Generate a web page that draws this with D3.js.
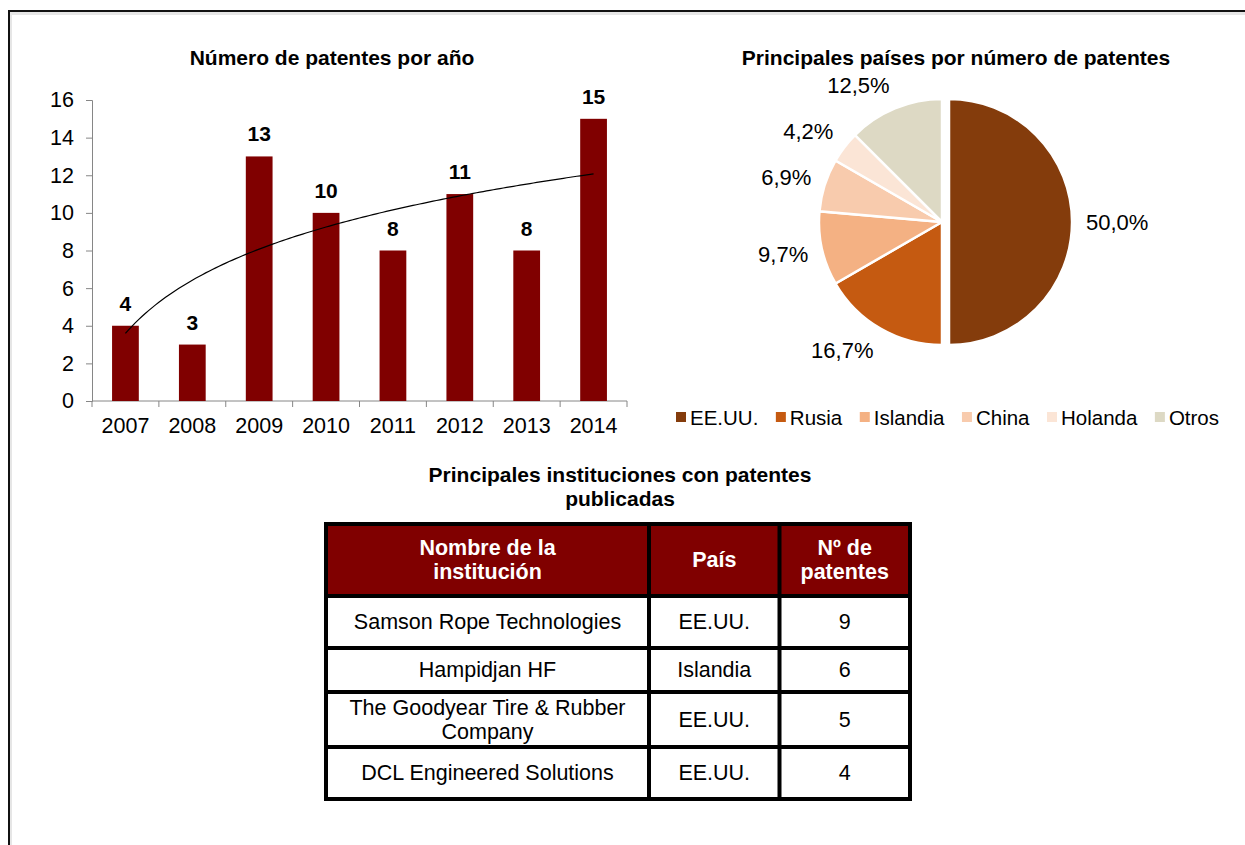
<!DOCTYPE html>
<html>
<head>
<meta charset="utf-8">
<script src="https://cdn.jsdelivr.net/npm/d3@7"></script>
<style>
  body { margin: 0; background: #fff; }
  svg { display: block; font-family: "Liberation Sans", Arial, sans-serif; }
</style>
</head>
<body>
<div id="chart"></div>
<script>
// dades
const years = ["2007", "2008", "2009", "2010", "2011", "2012", "2013", "2014"];
const patents = [4, 3, 13, 10, 8, 11, 8, 15];
const yTicks = [0, 2, 4, 6, 8, 10, 12, 14, 16];

const countries = ["EE.UU.", "Rusia", "Islandia", "China", "Holanda", "Otros"];
const countryCounts = [36, 12, 7, 5, 3, 9];
const countryColors = ["#843c0c", "#c55a11", "#f4b183", "#f8cbad", "#fbe5d6", "#ddd9c4"];

const tableHeader = [["Nombre de la", "institución"], ["País"], ["Nº de", "patentes"]];
const institutions = [["Samson Rope Technologies"], ["Hampidjan HF"], ["The Goodyear Tire & Rubber", "Company"], ["DCL Engineered Solutions"]];
const instCountries = ["EE.UU.", "Islandia", "EE.UU.", "EE.UU."];
const instPatents = [9, 6, 5, 4];

const W = 1245, H = 845;
const svg = d3.select("#chart").append("svg").attr("width", W).attr("height", H);

// marc
svg.append("path").attr("d", `M10,${H} V13 H${W}`).attr("fill", "none")
  .attr("stroke", "#e6e6e6").attr("stroke-width", 4);
svg.append("path").attr("d", `M9,${H} V11 H${W}`).attr("fill", "none")
  .attr("stroke", "#111").attr("stroke-width", 2);

// ---------- gràfic de barres ----------
const x = d3.scaleBand().domain(years).range([92, 627]).paddingInner(0.6).paddingOuter(0.3);
const y = d3.scaleLinear().domain([0, 16]).range([401, 100]);

svg.append("text").attr("x", 332).attr("y", 65).attr("text-anchor", "middle")
  .style("font-size", "21px").style("font-weight", "bold").text("Número de patentes por año");

const yAxis = svg.append("g").attr("transform", "translate(92,0)")
  .call(d3.axisLeft(y).tickValues(yTicks).tickSize(6).tickPadding(12));
yAxis.selectAll("text").style("font-size", "21.5px").attr("fill", "#000").style("font-family", "Liberation Sans, Arial");
yAxis.selectAll("line, path").attr("stroke", "#868686");

// eix x amb ticks als límits de cada categoria
const xAxis = svg.append("g");
xAxis.append("line").attr("x1", 92).attr("x2", 627).attr("y1", y(0)).attr("y2", y(0)).attr("stroke", "#868686");
xAxis.selectAll(".tk").data(d3.range(years.length + 1)).enter().append("line")
  .attr("x1", i => x.range()[0] + i * x.step()).attr("x2", i => x.range()[0] + i * x.step())
  .attr("y1", y(0)).attr("y2", y(0) + 6).attr("stroke", "#868686");
xAxis.selectAll(".lb").data(years).enter().append("text")
  .attr("x", d => x(d) + x.bandwidth() / 2).attr("y", y(0) + 32).attr("text-anchor", "middle")
  .style("font-size", "21.5px").text(d => d);

svg.selectAll(".bar").data(patents).enter().append("rect")
  .attr("x", (d, i) => x(years[i])).attr("width", x.bandwidth())
  .attr("y", d => y(d)).attr("height", d => y(0) - y(d)).attr("fill", "#800000");

svg.selectAll(".val").data(patents).enter().append("text")
  .attr("x", (d, i) => x(years[i]) + x.bandwidth() / 2).attr("y", d => y(d) - 15)
  .attr("text-anchor", "middle").style("font-size", "21px").style("font-weight", "bold").text(d => d);

// línia de tendència logarítmica (regressió sobre les dades)
const lx = patents.map((d, i) => Math.log(i + 1));
const mx = d3.mean(lx), my = d3.mean(patents);
const b = d3.sum(lx, (v, i) => (v - mx) * (patents[i] - my)) / d3.sum(lx, v => (v - mx) ** 2);
const a = my - b * mx;
const trend = d3.range(1, years.length + 0.001, 0.05).map(t => [t, a + b * Math.log(t)]);
const tx = d3.scaleLinear().domain([1, years.length])
  .range([x(years[0]) + x.bandwidth() / 2, x(years[years.length - 1]) + x.bandwidth() / 2]);
svg.append("path").datum(trend)
  .attr("d", d3.line().x(d => tx(d[0])).y(d => y(d[1])))
  .attr("fill", "none").attr("stroke", "#000").attr("stroke-width", 1.2);

// ---------- gràfic de pastís ----------
svg.append("text").attr("x", 956).attr("y", 65).attr("text-anchor", "middle")
  .style("font-size", "21px").style("font-weight", "bold").text("Principales países por número de patentes");

const cx = 942, cy = 222, r = 123;
const total = d3.sum(countryCounts);
const arcs = d3.pie().sort(null).value(d => d)(countryCounts);
const arc = d3.arc().innerRadius(0).outerRadius(r);
const pieG = svg.append("g").attr("transform", `translate(${cx},${cy})`);

arcs.forEach((d, i) => {
  const mid = (d.startAngle + d.endAngle) / 2;
  const dx = Math.sin(mid), dy = -Math.cos(mid);
  const ex = i === 0 ? 7 : 0;
  const ox = dx * ex, oy = dy * ex;
  pieG.append("path").attr("d", arc(d)).attr("transform", `translate(${ox},${oy})`)
    .attr("fill", countryColors[i]).attr("stroke", "#fff").attr("stroke-width", 2.5);
  const lab = pieG.append("text").attr("text-anchor", "middle").attr("dominant-baseline", "central")
    .style("font-size", "22px")
    .text((d.data / total * 100).toFixed(1).replace(".", ",") + "%");
  const w = lab.node().getComputedTextLength(), h = 22;
  const ax = ox + (r + 14) * dx, ay = oy + (r + 14) * dy;
  const lx2 = ax + (Math.abs(dx) > 0.2 ? Math.sign(dx) * w / 2 : dx * w / 2);
  const ly2 = ay + dy * h / 2;
  lab.attr("x", lx2).attr("y", ly2);
});

// llegenda (repartida entre x0 i x1)
const legX0 = 676, legX1 = 1219;
const legend = svg.append("g").attr("transform", "translate(0,417)");
const items = countries.map((c, i) => {
  const g = legend.append("g");
  g.append("rect").attr("x", 0).attr("y", -5).attr("width", 10).attr("height", 10).attr("fill", countryColors[i]);
  const t = g.append("text").attr("x", 14).attr("y", 0).attr("dominant-baseline", "central")
    .style("font-size", "20.5px").text(c);
  return { g, w: 14 + t.node().getComputedTextLength() };
});
const gap = (legX1 - legX0 - d3.sum(items, d => d.w)) / (items.length - 1);
let lxPos = legX0;
items.forEach(it => { it.g.attr("transform", `translate(${lxPos},0)`); lxPos += it.w + gap; });

// ---------- taula ----------
const tt = svg.append("text").attr("x", 620).attr("text-anchor", "middle")
  .style("font-size", "21px").style("font-weight", "bold");
tt.append("tspan").attr("x", 620).attr("y", 482).text("Principales instituciones con patentes");
tt.append("tspan").attr("x", 620).attr("y", 506).text("publicadas");

const colX = [326, 649, 779.5, 910];
const rowY = [524, 596, 648, 692, 747, 799];
const table = svg.append("g");
table.append("rect").attr("x", colX[0]).attr("y", rowY[0]).attr("width", colX[3] - colX[0])
  .attr("height", rowY[1] - rowY[0]).attr("fill", "#800000");

function cellText(lines, col, row, bold, color) {
  const xc = (colX[col] + colX[col + 1]) / 2, yc = (rowY[row] + rowY[row + 1]) / 2;
  const lh = 24;
  const t = table.append("text").attr("text-anchor", "middle").attr("fill", color)
    .style("font-size", "21.5px").style("font-weight", bold ? "bold" : "normal");
  lines.forEach((l, k) => {
    t.append("tspan").attr("x", xc).attr("y", yc + (k - (lines.length - 1) / 2) * lh)
      .attr("dominant-baseline", "central").text(l);
  });
}
tableHeader.forEach((h, c) => cellText(h, c, 0, true, "#fff"));
institutions.forEach((d, i) => {
  cellText(d, 0, i + 1, false, "#000");
  cellText([instCountries[i]], 1, i + 1, false, "#000");
  cellText([String(instPatents[i])], 2, i + 1, false, "#000");
});

// línies de la graella
rowY.slice(1, -1).forEach(v => table.append("line").attr("x1", colX[0]).attr("x2", colX[3])
  .attr("y1", v).attr("y2", v).attr("stroke", "#000").attr("stroke-width", 4));
colX.slice(1, -1).forEach(v => table.append("line").attr("x1", v).attr("x2", v)
  .attr("y1", rowY[0]).attr("y2", rowY[5]).attr("stroke", "#000").attr("stroke-width", 4));
table.append("rect").attr("x", colX[0]).attr("y", rowY[0]).attr("width", colX[3] - colX[0])
  .attr("height", rowY[5] - rowY[0]).attr("fill", "none").attr("stroke", "#000").attr("stroke-width", 4);
</script>
</body>
</html>
